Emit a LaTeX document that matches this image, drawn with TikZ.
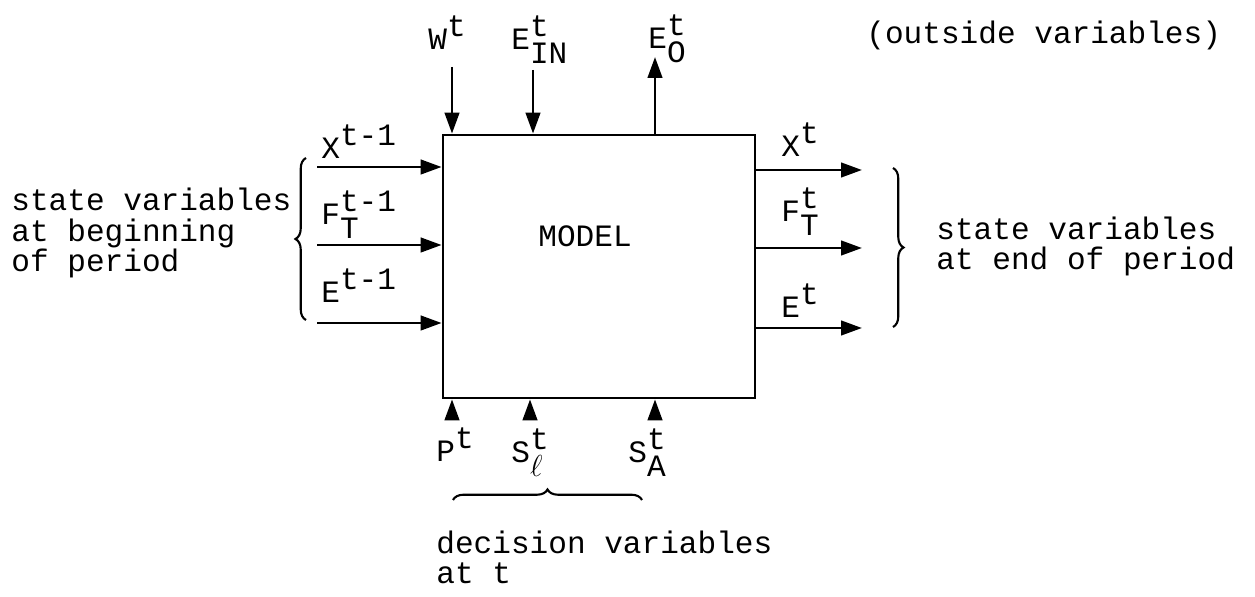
\documentclass[tikz,border=0pt]{standalone}
\usepackage{fontspec}
\setmainfont{Liberation Mono}
\usetikzlibrary{arrows.meta,decorations.pathreplacing}

% typed variable: base, superscript, subscript
\newcommand{\tvar}[3]{#1\ooalign{\raisebox{.42em}{#2}\cr\raisebox{-.42em}{#3}\cr}}

\begin{document}
\begin{tikzpicture}[x=0.02cm,y=-0.02cm,>={Triangle[length=4.2mm,width=2.9mm]},line width=1.6pt,
  every node/.style={font=\fontsize{17.7pt}{17.5pt}\selectfont,inner sep=0pt},
  lbl/.style={anchor=base west},
  txt/.style={anchor=base west,align=left},
  curly/.style={decorate,decoration={brace,amplitude=6pt},line width=1.2pt}]
\useasboundingbox (0,0) rectangle (1255,597);
\node[draw,minimum width=6.24cm,minimum height=5.26cm] (model) at (599,266.5) {};
\node[lbl] (mtext) at (537,247) {MODEL};
% outside variables
\coordinate (win) at (452,67);
\coordinate (einin) at (533,70);
\coordinate (eout) at (655,57);
\draw[->] (win) -- (win |- model.north);
\draw[->] (einin) -- (einin |- model.north);
\draw[->] (eout |- model.north) -- (eout);
\node[lbl] (w) at (427,50) {\tvar{W}{t}{}};
\node[lbl] (ein) at (510,50) {\tvar{E}{t}{IN}};
\node[lbl] (eo) at (647,49) {\tvar{E}{t}{O}};
\node[lbl] (outside) at (865,44) {(outside variables)};
% state variables in
\foreach \y/\n in {167/xin,245/fin,323/ein} {
  \coordinate (\n) at (317,\y);
  \draw[->] (\n) -- (\n -| model.west);
}
\node[lbl] (xold) at (320,159) {\tvar{X}{t-1}{}};
\node[lbl] (fold) at (320,225) {\tvar{F}{t-1}{T}};
\node[lbl] (eold) at (320,303) {\tvar{E}{t-1}{}};
\coordinate (lb1) at (306,320);
\coordinate (lb2) at (306,158);
\draw[curly] (lb1) -- (lb2);
\node[txt] (begin) at (10,272) {state variables\\at beginning\\of period};
% state variables out
\foreach \y/\n in {170/xout,248/fout,328/eend} {
  \coordinate (\n) at (862,\y);
  \draw[->] (\n -| model.east) -- (\n);
}
\node[lbl] (xnew) at (780,157) {\tvar{X}{t}{}};
\node[lbl] (fnew) at (780,222) {\tvar{F}{t}{T}};
\node[lbl] (enew) at (780,318) {\tvar{E}{t}{}};
\coordinate (rb1) at (893,168);
\coordinate (rb2) at (893,327);
\draw[curly] (rb1) -- (rb2);
\node[txt] (end) at (935,270) {state variables\\at end of period};
% decision variables
\foreach \x/\n in {452/pin,530/slin,655/sain} {
  \coordinate (\n) at (\x,417);
  \draw[->] (\n) -- (\n |- model.south);
}
\node[lbl] (p) at (435,462) {\tvar{P}{t}{}};
\node[lbl] (sl) at (510,463) {\tvar{S}{t}{$\ell$}};
\node[lbl] (sa) at (627,463) {\tvar{S}{t}{A}};
\coordinate (bb1) at (453,500);
\coordinate (bb2) at (642,500);
\draw[curly] (bb1) -- (bb2);
\node[txt] (dec) at (435,584) {decision variables\\at t};
\end{tikzpicture}
\end{document}
